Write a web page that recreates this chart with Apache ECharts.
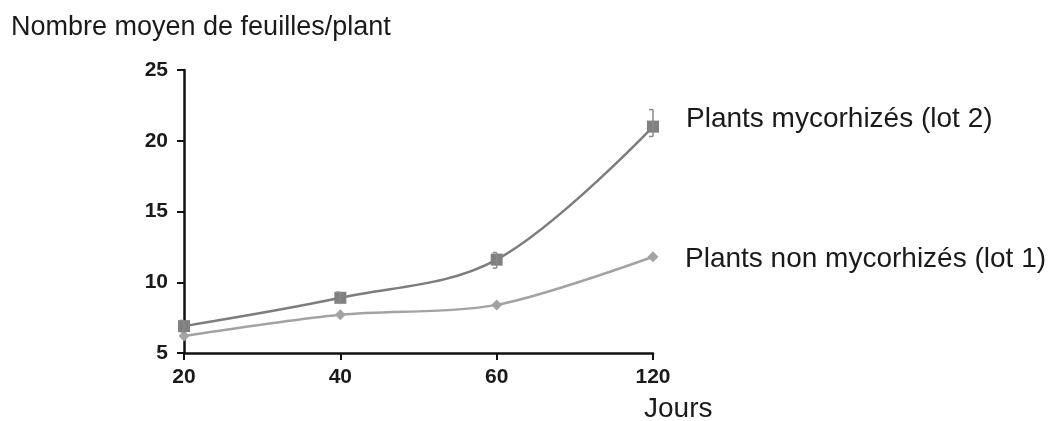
<!DOCTYPE html>
<html>
<head>
<meta charset="utf-8">
<script src="https://cdn.jsdelivr.net/npm/echarts@6/dist/echarts.min.js"></script>
<style>html,body{margin:0;padding:0;background:#fff}#c{width:1057px;height:421px}</style>
</head>
<body>
<div id="c"></div>
<script>
var categories = ['20', '40', '60', '120'];
var lot2 = [6.9, 8.9, 11.6, 21.0];
var lot1 = [6.2, 7.7, 8.4, 11.8];
var lot2Low = [6.5, 8.6, 11.0, 20.3];
var lot2High = [7.3, 9.3, 12.1, 22.2];
var yTicks = [5, 10, 15, 20, 25];

var chart = echarts.init(document.getElementById('c'), null, {renderer: 'canvas'});
var font = 'Liberation Sans, Arial, sans-serif';
var errData = categories.map(function (c, i) { return [i, lot2Low[i], lot2High[i]]; });
function txt(s, x, y, size) {
  return {type: 'text', left: x, top: y - size / 2, z: 10,
    style: {text: s, fontFamily: font, fontSize: size, fontWeight: 'normal', fill: '#1a1a1a'}};
}

chart.setOption({
  animation: false,
  backgroundColor: '#fff',
  graphic: [
    txt('Nombre moyen de feuilles/plant', 11, 28, 27),
    txt('Jours', 644, 409, 28),
    txt('Plants mycorhizés (lot 2)', 686, 119, 28),
    txt('Plants non mycorhizés (lot 1)', 685, 259, 28)
  ],
  grid: {left: 184, right: 404, top: 70, bottom: 68, containLabel: false},
  xAxis: {
    type: 'category', data: categories, boundaryGap: false,
    axisLine: {lineStyle: {color: '#111', width: 2.5}},
    axisTick: {show: true, alignWithLabel: true, length: 7, lineStyle: {color: '#111', width: 2}},
    axisLabel: {fontFamily: font, fontSize: 21, fontWeight: 'bold', color: '#1a1a1a', margin: 14},
    splitLine: {show: false}
  },
  yAxis: {
    type: 'value', min: 5, max: 25, interval: 5,
    axisLine: {show: true, lineStyle: {color: '#111', width: 2.5}},
    axisTick: {show: true, length: 7, lineStyle: {color: '#111', width: 2}},
    axisLabel: {fontFamily: font, fontSize: 21, fontWeight: 'bold', color: '#1a1a1a', margin: 16,
      formatter: function (v) { return yTicks.indexOf(v) >= 0 ? String(v) : ''; }},
    splitLine: {show: false}
  },
  series: [
    {
      name: 'lot 1', type: 'line', data: lot1, smooth: 0.3,
      symbol: 'diamond', symbolSize: 11,
      lineStyle: {color: '#a3a3a3', width: 2.5},
      itemStyle: {color: '#a3a3a3'}, z: 2
    },
    {
      name: 'lot 2', type: 'line', data: lot2, smooth: 0.35,
      symbol: 'rect', symbolSize: 12,
      lineStyle: {color: '#7d7d7d', width: 2.5},
      itemStyle: {color: '#808080'}, z: 3
    },
    {
      name: 'err', type: 'custom', data: errData, z: 4,
      renderItem: function (params, api) {
        var x = api.value(0);
        var lo = api.coord([x, api.value(1)]);
        var hi = api.coord([x, api.value(2)]);
        var w = 4;
        var st = {stroke: '#8a8a8a', lineWidth: 1.5, fill: null};
        return {type: 'group', children: [
          {type: 'line', shape: {x1: lo[0], y1: lo[1], x2: hi[0], y2: hi[1]}, style: st},
          {type: 'line', shape: {x1: lo[0] - w, y1: lo[1], x2: lo[0], y2: lo[1]}, style: st},
          {type: 'line', shape: {x1: hi[0] - w, y1: hi[1], x2: hi[0], y2: hi[1]}, style: st}
        ]};
      }
    }
  ]
});
</script>
</body>
</html>
